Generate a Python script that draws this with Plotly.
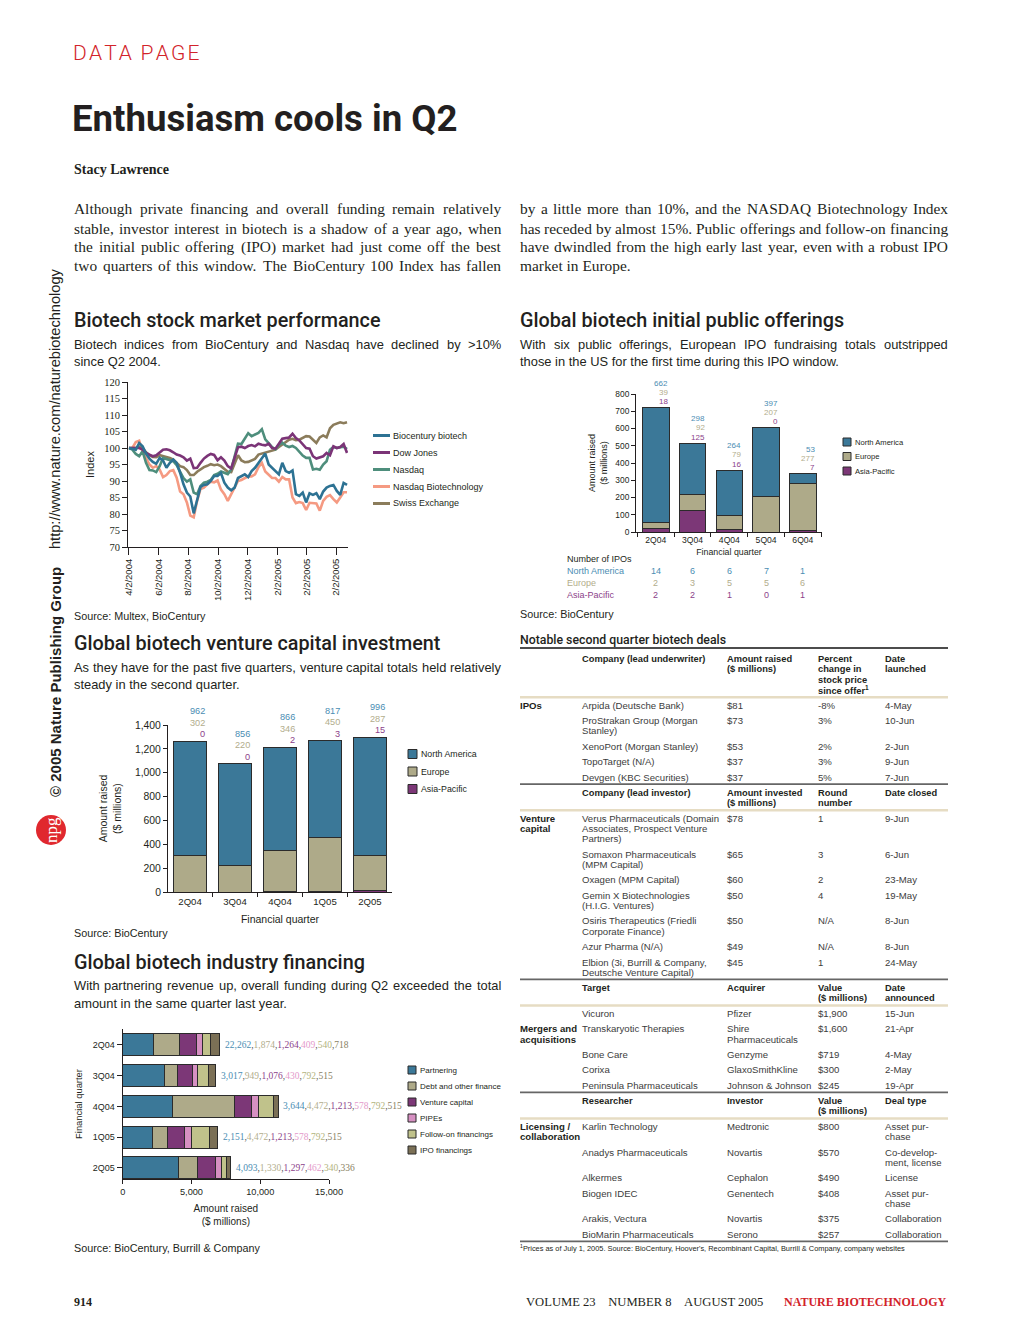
import plotly.graph_objects as go
import pandas as pd

# ------------------------------------------------------------------ DATA
weeks = pd.date_range("2004-04-02", periods=65, freq="7D")
biocentury = [100, 99.8, 99.5, 101.5, 100.5, 98.3, 96.8, 95.8, 95.2, 97,
              96.2, 94, 95.5, 96.5, 95.5, 92.5, 89, 86.5, 85.3, 80.2,
              84, 88.2, 88.8, 89, 90, 91.5, 91.5, 92.4, 89.5, 88,
              87.2, 88, 90.9, 91.5, 92, 91.2, 93, 94, 95.5, 97,
              98.3, 95, 94, 92.8, 92, 95.5, 93, 92.5, 93.2, 86,
              85.5, 86.5, 83.5, 86.3, 85.8, 86.3, 84.5, 86.8, 88, 88.5,
              88.8, 87, 85.8, 89.4, 88.8]
dow_jones = [100, 100, 99.8, 100, 99.5, 98.5, 98, 97.5, 97.8, 98.8,
             99.5, 99.6, 99.3, 98.7, 98, 97.7, 97.2, 96.2, 96.8, 93.9,
             94, 95.5, 96.8, 97.6, 98.2, 97.9, 96.3, 97.2, 96.2, 94.5,
             93.8, 97, 100.2, 100.4, 100, 100.6, 100.9, 100.5, 101.3, 101,
             100.8, 101.3, 100, 99.8, 101.5, 102.8, 103, 103.2, 104.3, 103,
             102.3, 101, 100, 99.8, 97.5, 96.8, 97.2, 97.5, 98.5, 97.8,
             100.5, 100, 100.3, 101.2, 98.5]
nasdaq = [100, 99.5, 98.2, 97.5, 99, 95.5, 93.3, 93.2, 92.7, 94.5,
          97, 96.7, 96.5, 96, 94.8, 92.6, 90.9, 89.8, 90.5, 86.5,
          86, 88.5, 89.5, 89.8, 90.3, 91.8, 92.2, 92.9, 92.5, 92.1,
          93.5, 97.5, 101.3, 101.2, 103, 104.5, 103.6, 104, 104.6, 105.7,
          102.6, 101.5, 100.3, 99.6, 100.9, 101.6, 100.7, 100.3, 100.6, 100,
          98.7, 97.7, 97, 97, 93.5, 93.7, 93.4, 95, 96, 99.5,
          100.3, 100, 100.2, 100.4, 99.7]
nasdaq_biotech = [100, 100, 101.8, 102.2, 99, 96.8, 95, 94, 94.5, 93.5,
                  91.2, 91.8, 93, 93.3, 91, 86.8, 86, 83.5, 79.5, 79,
                  84, 87.6, 88, 89, 89.8, 89.6, 90.2, 87.4, 86, 84,
                  86, 88, 90, 90.3, 90.8, 91.4, 91.4, 92, 94.2, 95.5,
                  92.9, 91.8, 90.9, 90.9, 89.8, 91.2, 90.5, 90.5, 85, 83.3,
                  83.6, 83.3, 81.2, 83.4, 83.2, 83.2, 81, 84, 85.2, 85.7,
                  84.5, 83.5, 85, 86.6, 86.6]
swiss = [100, 100, 100, 100.3, 100, 98.7, 97.8, 97.3, 97.2, 97.8,
         97.6, 97.3, 97, 96.5, 95.4, 94.5, 94.2, 93.3, 91.8, 91.8,
         92.8, 93.5, 94.2, 94.6, 95.1, 94.8, 95, 94.5, 93.5, 92.8,
         92.7, 95, 97.8, 96.2, 95.7, 95.8, 96.3, 96.7, 98, 98.3,
         98.6, 98.9, 99.1, 99.5, 100.3, 101, 101.8, 102.5, 102.8, 102.4,
         102.5, 103, 103.6, 103.5, 102.5, 101.5, 103.2, 103.8, 103.2, 106,
         107, 107.5, 107.8, 107.5, 107.8]
line_tick_dates = ["2004-04-02", "2004-06-02", "2004-08-02", "2004-10-02",
                   "2004-12-02", "2005-02-02", "2005-04-02", "2005-06-02"]
line_tick_text = ["4/2/2004", "6/2/2004", "8/2/2004", "10/2/2004",
                  "12/2/2004", "2/2/2005", "2/2/2005", "2/2/2005"]

ipo_quarters = ["2Q04", "3Q04", "4Q04", "5Q04", "6Q04"]
ipo_na = [662, 298, 264, 397, 53]
ipo_eu = [39, 92, 79, 207, 277]
ipo_ap = [18, 125, 16, 0, 7]
ipo_count_na = [14, 6, 6, 7, 1]
ipo_count_eu = [2, 3, 5, 5, 6]
ipo_count_ap = [2, 2, 1, 0, 1]

vc_quarters = ["2Q04", "3Q04", "4Q04", "1Q05", "2Q05"]
vc_na = [962, 856, 866, 817, 996]
vc_eu = [302, 220, 346, 450, 287]
vc_ap = [0, 0, 2, 3, 15]

fin_quarters = ["2Q04", "3Q04", "4Q04", "1Q05", "2Q05"]
fin_partnering = [2262, 3017, 3644, 2151, 4093]
fin_debt = [1874, 949, 4472, 1090, 1330]
fin_vc = [1264, 1076, 1213, 1237, 1297]
fin_pipes = [409, 430, 578, 533, 462]
fin_followon = [540, 792, 1050, 1285, 340]
fin_ipo = [718, 515, 360, 606, 336]
fin_labels = [["22,262", "1,874", "1,264", "409", "540", "718"],
              ["3,017", "949", "1,076", "430", "792", "515"],
              ["3,644", "4,472", "1,213", "578", "792", "515"],
              ["2,151", "4,472", "1,213", "578", "792", "515"],
              ["4,093", "1,330", "1,297", "462", "340", "336"]]

left_par = ["Although private financing and overall funding remain relatively",
            "stable, investor interest in biotech is a shadow of a year ago, when",
            "the initial public offering (IPO) market had just come off the best",
            "two quarters of this window. The BioCentury 100 Index has fallen"]
right_par = ["by a little more than 10%, and the NASDAQ Biotechnology Index",
             "has receded by almost 15%. Public offerings and follow-on financing",
             "have dwindled from the high early last year, even with a robust IPO",
             "market in Europe."]

deal_sections = [
    dict(label="IPOs", label_row=0,
         header=["Company (lead underwriter)", "Amount raised<br>($ millions)",
                 "Percent<br>change in<br>stock price<br>since offer<sup>1</sup>", "Date<br>launched"],
         rows=[["Arpida (Deutsche Bank)", "$81", "-8%", "4-May"],
               ["ProStrakan Group (Morgan<br>Stanley)", "$73", "3%", "10-Jun"],
               ["XenoPort (Morgan Stanley)", "$53", "2%", "2-Jun"],
               ["TopoTarget (N/A)", "$37", "3%", "9-Jun"],
               ["Devgen (KBC Securities)", "$37", "5%", "7-Jun"]]),
    dict(label="Venture<br>capital", label_row=0,
         header=["Company (lead investor)", "Amount invested<br>($ millions)", "Round<br>number", "Date closed"],
         rows=[["Verus Pharmaceuticals (Domain<br>Associates, Prospect Venture<br>Partners)", "$78", "1", "9-Jun"],
               ["Somaxon Pharmaceuticals<br>(MPM Capital)", "$65", "3", "6-Jun"],
               ["Oxagen (MPM Capital)", "$60", "2", "23-May"],
               ["Gemin X Biotechnologies<br>(H.I.G. Ventures)", "$50", "4", "19-May"],
               ["Osiris Therapeutics (Friedli<br>Corporate Finance)", "$50", "N/A", "8-Jun"],
               ["Azur Pharma (N/A)", "$49", "N/A", "8-Jun"],
               ["Elbion (3i, Burrill & Company,<br>Deutsche Venture Capital)", "$45", "1", "24-May"]]),
    dict(label="Mergers and<br>acquisitions", label_row=1,
         header=["Target", "Acquirer", "Value<br>($ millions)", "Date<br>announced"],
         rows=[["Vicuron", "Pfizer", "$1,900", "15-Jun"],
               ["Transkaryotic Therapies", "Shire<br>Pharmaceuticals", "$1,600", "21-Apr"],
               ["Bone Care", "Genzyme", "$719", "4-May"],
               ["Corixa", "GlaxoSmithKline", "$300", "2-May"],
               ["Peninsula Pharmaceuticals", "Johnson & Johnson", "$245", "19-Apr"]]),
    dict(label="Licensing /<br>collaboration", label_row=0,
         header=["Researcher", "Investor", "Value<br>($ millions)", "Deal type"],
         rows=[["Karlin Technology", "Medtronic", "$800", "Asset pur-<br>chase"],
               ["Anadys Pharmaceuticals", "Novartis", "$570", "Co-develop-<br>ment, license"],
               ["Alkermes", "Cephalon", "$490", "License"],
               ["Biogen IDEC", "Genentech", "$408", "Asset pur-<br>chase"],
               ["Arakis, Vectura", "Novartis", "$375", "Collaboration"],
               ["BioMarin Pharmaceuticals", "Serono", "$257", "Collaboration"]]),
]

# ------------------------------------------------------------------ STYLE
W, H = 1020, 1344
def X(px): return px / W
def Y(py): return 1 - py / H

SANS = "Liberation Sans, Arial, sans-serif"
HEAD = "Roboto, Liberation Sans, sans-serif"
SERIF = "Liberation Serif, Times New Roman, serif"
INK = "#231f20"
GREY = "#3c3c3c"
RED = "#d2232a"
OUT = "#2b2b2b"

C_NA, C_EU, C_AP = "#3b7898", "#aeaa89", "#7c3777"
T_NA, T_EU, T_AP = "#4a8db3", "#b2ad8c", "#8c3f8a"
fin_colors = ["#3b7898", "#aeaa89", "#7c3777", "#d690c2", "#c0c28b", "#7b7056"]
fin_text_colors = ["#4a8db3", "#b2ad8c", "#8c3f8a", "#e49acb", "#b3b47e", "#8a7f62"]

# advance widths (1/1000 em) of the metric-compatible Liberation fonts
_tu = "ABCDEFGHIJKLMNOPQRSTUVWXYZ"
_tl = "abcdefghijklmnopqrstuvwxyz"
TIMES_W = dict(zip(_tu, [722, 667, 667, 722, 611, 556, 722, 722, 333, 389, 722, 611, 889,
                         722, 722, 556, 722, 667, 556, 611, 722, 722, 944, 722, 722, 611]))
TIMES_W.update(zip(_tl, [444, 500, 444, 500, 444, 333, 500, 500, 278, 278, 500, 278, 778,
                         500, 500, 500, 500, 333, 389, 278, 500, 500, 722, 500, 500, 444]))
TIMES_W.update({c: 500 for c in "0123456789"})
TIMES_W.update({" ": 250, ",": 250, ".": 250, "(": 333, ")": 333, "-": 333, "%": 833,
                ">": 564, "'": 333, ":": 278, "/": 278})
ARIAL_W = dict(zip(_tu, [667, 667, 722, 722, 667, 611, 778, 722, 278, 500, 667, 556, 833,
                         722, 778, 667, 778, 722, 667, 611, 722, 667, 944, 667, 667, 611]))
ARIAL_W.update(zip(_tl, [556, 556, 500, 556, 556, 278, 556, 556, 222, 222, 500, 222, 833,
                         556, 556, 556, 556, 333, 500, 278, 556, 500, 722, 500, 500, 500]))
ARIAL_W.update({c: 556 for c in "0123456789"})
ARIAL_W.update({" ": 278, ",": 278, ".": 278, "(": 333, ")": 333, "-": 333, "%": 889,
                ">": 584, "'": 191, ":": 278, "/": 278})

annotations, shapes = [], []

def put(x, y, s, size, family=SANS, color=INK, xanchor="left", weight="normal",
        angle=0, yanchor="middle"):
    annotations.append(dict(xref="paper", yref="paper", x=X(x), y=Y(y), text=s,
                            showarrow=False, xanchor=xanchor, yanchor=yanchor,
                            textangle=angle, borderpad=0, borderwidth=0,
                            font=dict(family=family, size=size, color=color, weight=weight)))

def esc(s):
    return s.replace("&", "&amp;").replace(">", "&gt;")

def text_line(x0, x1, y, line, size, family, table, justify):
    words = line.split(" ")
    if not justify or len(words) < 2:
        put(x0, y, esc(line), size, family)
        return
    widths = [sum(table.get(ch, 500) for ch in w) * size / 1000 for w in words]
    gap = (x1 - x0 - sum(widths)) / (len(words) - 1)
    x = x0
    for w, wd in zip(words, widths):
        put(x, y, esc(w), size, family)
        x += wd + gap

def hline(x0, x1, y, color, width):
    shapes.append(dict(type="line", xref="paper", yref="paper", x0=X(x0), x1=X(x1),
                       y0=Y(y), y1=Y(y), line=dict(color=color, width=width)))

fig = go.Figure()

# ------------------------------------------------------------------ CHART 1: lines
line_series = [("Biocentury biotech", biocentury, "#2d7293"),
               ("Dow Jones", dow_jones, "#7b3477"),
               ("Nasdaq", nasdaq, "#4e8e7c"),
               ("Nasdaq Biotechnology", nasdaq_biotech, "#f59a82"),
               ("Swiss Exchange", swiss, "#8b7c5b")]
for idx in [3, 4, 2, 1, 0]:
    name, vals, col = line_series[idx]
    fig.add_trace(go.Scatter(x=weeks, y=vals, mode="lines", name=name,
                             line=dict(color=col, width=2.6), xaxis="x", yaxis="y",
                             showlegend=False))
for i, (name, vals, col) in enumerate(line_series):
    yy = 435.5 + 17 * i
    hline(373, 390, yy, col, 3)
    put(393, yy, name, 9, SANS, INK)

# ------------------------------------------------------------------ CHART 2: IPO bars
for name, vals, col in [("Asia-Pacific", ipo_ap, C_AP), ("Europe", ipo_eu, C_EU),
                        ("North America", ipo_na, C_NA)]:
    fig.add_trace(go.Bar(x=ipo_quarters, y=vals, name=name, width=0.72,
                         marker=dict(color=col, line=dict(color=OUT, width=1)),
                         xaxis="x2", yaxis="y2", showlegend=False))
for i, q in enumerate(ipo_quarters):
    total = ipo_na[i] + ipo_eu[i] + ipo_ap[i]
    for j, (vals, col) in enumerate([(ipo_ap, T_AP), (ipo_eu, T_EU), (ipo_na, T_NA)]):
        annotations.append(dict(xref="x2", yref="y2", x=q, y=total, text=str(vals[i]),
                                showarrow=False, xanchor="right", yanchor="middle",
                                xshift=13, yshift=6 + 9.4 * j, borderpad=0,
                                font=dict(family=SANS, size=8, color=col)))
put(567, 559, "Number of IPOs", 9, SANS, INK)
for j, (name, vals, col) in enumerate([("North America", ipo_count_na, T_NA),
                                       ("Europe", ipo_count_eu, T_EU),
                                       ("Asia-Pacific", ipo_count_ap, T_AP)]):
    yy = 571 + 12 * j
    put(567, yy, name, 9, SANS, col)
    for i, q in enumerate(ipo_quarters):
        annotations.append(dict(xref="x2", yref="paper", x=q, y=Y(yy), text=str(vals[i]),
                                showarrow=False, xanchor="center", yanchor="middle",
                                borderpad=0, font=dict(family=SANS, size=9, color=col)))

def rect_legend(x0, y0, step, size, items, fs):
    for i, (name, col) in enumerate(items):
        yy = y0 + i * step
        shapes.append(dict(type="rect", xref="paper", yref="paper", x0=X(x0), x1=X(x0 + size),
                           y0=Y(yy + size / 2), y1=Y(yy - size / 2), fillcolor=col,
                           line=dict(color=OUT, width=1)))
        put(x0 + size + 4, yy, name, fs, SANS, INK)

rect_legend(843, 442, 14.5, 8, [("North America", C_NA), ("Europe", C_EU), ("Asia-Pacific", C_AP)], 7.6)

# ------------------------------------------------------------------ CHART 3: VC bars
for name, vals, col in [("Asia-Pacific", vc_ap, C_AP), ("Europe", vc_eu, C_EU),
                        ("North America", vc_na, C_NA)]:
    fig.add_trace(go.Bar(x=vc_quarters, y=vals, name=name, width=0.73,
                         marker=dict(color=col, line=dict(color=OUT, width=1)),
                         xaxis="x3", yaxis="y3", showlegend=False))
for i, q in enumerate(vc_quarters):
    total = vc_na[i] + vc_eu[i] + vc_ap[i]
    for j, (vals, col) in enumerate([(vc_ap, T_AP), (vc_eu, T_EU), (vc_na, T_NA)]):
        annotations.append(dict(xref="x3", yref="y3", x=q, y=total, text=str(vals[i]),
                                showarrow=False, xanchor="right", yanchor="middle",
                                xshift=16, yshift=7 + 11.5 * j, borderpad=0,
                                font=dict(family=SANS, size=9.2, color=col)))
rect_legend(408, 754, 17.5, 9, [("North America", C_NA), ("Europe", C_EU), ("Asia-Pacific", C_AP)], 8.8)

# ------------------------------------------------------------------ CHART 4: financing
fin_series = [("Partnering", fin_partnering), ("Debt and other finance", fin_debt),
              ("Venture capital", fin_vc), ("PIPEs", fin_pipes),
              ("Follow-on financings", fin_followon), ("IPO financings", fin_ipo)]
for (name, vals), col in zip(fin_series, fin_colors):
    fig.add_trace(go.Bar(y=fin_quarters, x=vals, name=name, orientation="h", width=0.715,
                         marker=dict(color=col, line=dict(color=OUT, width=1)),
                         xaxis="x4", yaxis="y4", showlegend=False))
sep = '<span style="color:#555555">,</span>'
for i, q in enumerate(fin_quarters):
    total = sum(vals[i] for _, vals in fin_series)
    label = sep.join('<span style="color:%s">%s</span>' % (c, s)
                     for s, c in zip(fin_labels[i], fin_text_colors))
    annotations.append(dict(xref="x4", yref="y4", x=total, y=q, text=label, showarrow=False,
                            xanchor="left", yanchor="middle", xshift=4, borderpad=0,
                            font=dict(family=SERIF, size=9.5, color=INK)))
rect_legend(408, 1070, 16, 8, [(n, c) for (n, _), c in zip(fin_series, fin_colors)], 8)

# ------------------------------------------------------------------ PAGE TEXT
hs = "\u200a"
put(73, 53, hs.join("DATA") + "\u2009\u2009" + hs.join("PAGE"), 21, HEAD, RED, weight=300)
put(72, 118, "Enthusiasm cools in Q2", 36.6, HEAD, INK, weight=700)
put(74, 169, "Stacy Lawrence", 14, SERIF, INK, weight=700)
for k, line in enumerate(left_par):
    text_line(74, 501, 209 + 19 * k, line, 15.4, SERIF, TIMES_W, True)
for k, line in enumerate(right_par):
    text_line(520, 948, 209 + 19 * k, line, 15.4, SERIF, TIMES_W, k < len(right_par) - 1)

heads = [(74, 320, "Biotech stock market performance"),
         (520, 320, "Global biotech initial public offerings"),
         (74, 643, "Global biotech venture capital investment"),
         (74, 962, "Global biotech industry financing")]
for x, y, s in heads:
    put(x, y, s, 19.8, HEAD, INK, weight=500)
subs = [(74, 501, 344, ["Biotech indices from BioCentury and Nasdaq have declined by >10%", "since Q2 2004."]),
        (520, 948, 344, ["With six public offerings, European IPO fundraising totals outstripped",
                         "those in the US for the first time during this IPO window."]),
        (74, 501, 667, ["As they have for the past five quarters, venture capital totals held relatively",
                        "steady in the second quarter."]),
        (74, 501, 986, ["With partnering revenue up, overall funding during Q2 exceeded the total",
                        "amount in the same quarter last year."])]
for x0, x1, y, lines in subs:
    for k, s in enumerate(lines):
        text_line(x0, x1, y + 17 * k, s, 12.9, SANS, ARIAL_W, k < len(lines) - 1)

put(74, 616, "Source: Multex, BioCentury", 10.8, SANS, INK)
put(520, 614, "Source: BioCentury", 10.8, SANS, INK)
put(74, 933, "Source: BioCentury", 10.8, SANS, INK)
put(74, 1248, "Source: BioCentury, Burrill &amp; Company", 10.8, SANS, INK)

put(74, 1302, "914", 12, SERIF, INK, weight=700)
nb = "\u00a0"
put(526, 1302, "VOLUME 23" + nb * 4 + "NUMBER 8" + nb * 4 + "AUGUST 2005", 12.6, SERIF, INK)
put(946, 1302, "NATURE BIOTECHNOLOGY", 12, SERIF, RED, xanchor="right", weight=700)

# side banner
put(55, 682, "\u00a9 2005 Nature Publishing Group", 15, SANS, INK, xanchor="center", weight=700, angle=-90)
put(55, 409, "http://www.nature.com/naturebiotechnology", 14.6, SANS, INK, xanchor="center", angle=-90)
shapes.append(dict(type="circle", xref="paper", yref="paper", x0=X(36), x1=X(66), y0=Y(845), y1=Y(815),
                   fillcolor="#e0282e", line=dict(width=0)))
put(51, 830, "npg", 17, SERIF, "white", xanchor="center", angle=-90)

# ------------------------------------------------------------------ DEALS TABLE
col_x = [582, 727, 818, 885]
LH, ROWSTEP = 10.3, 15.4
TFS = 9.6
put(520, 640, "Notable second quarter biotech deals", 12.3, HEAD, INK, weight=500)
hline(520, 948, 648, "#111111", 1.3)
line_y = 648
for si, sec in enumerate(deal_sections):
    hy = 659 if si == 0 else line_y + 8.5
    nh = max(h.count("<br>") + 1 for h in sec["header"])
    for ci, h in enumerate(sec["header"]):
        for k, part in enumerate(h.split("<br>")):
            put(col_x[ci], hy + k * LH, part, 9.3, SANS, INK, weight=700)
    beige = hy + (nh - 1) * LH + 7.3
    hline(520, 948, beige, "#e6dcc3", 2.6)
    ry = beige + 8
    for ri, row in enumerate(sec["rows"]):
        n = max(c.count("<br>") + 1 for c in row)
        if ri == sec["label_row"]:
            for k, part in enumerate(sec["label"].split("<br>")):
                put(520, ry + k * LH, part, TFS, SANS, INK, weight=700)
        for ci, c in enumerate(row):
            for k, part in enumerate(c.split("<br>")):
                put(col_x[ci], ry + k * LH, part, TFS, SANS, GREY)
        last = ry + (n - 1) * LH
        ry = last + ROWSTEP
    line_y = last + 7
    hline(520, 948, line_y, "#666666", 1.6)
put(520, 1248, "<sup>1</sup>Prices as of July 1, 2005. Source: BioCentury, Hoover's, Recombinant Capital, Burrill &amp; Company, company websites",
    7.4, SANS, INK)

# ------------------------------------------------------------------ AXES
def ax(**kw):
    base = dict(showline=True, linecolor=INK, linewidth=1, ticks="outside", tickcolor=INK,
                showgrid=False, zeroline=False, fixedrange=True, automargin=False)
    base.update(kw)
    return base

fig.update_layout(
    width=W, height=H, margin=dict(l=0, r=0, t=0, b=0),
    paper_bgcolor="white", plot_bgcolor="rgba(0,0,0,0)",
    showlegend=False, barmode="stack", hovermode=False,
    xaxis=ax(domain=[X(128), X(348)], type="date", range=["2004-03-31", "2005-06-26"],
             tickmode="array", tickvals=line_tick_dates, ticktext=line_tick_text, tickangle=-90,
             ticklen=7, tickfont=dict(family=SANS, size=9.5, color=INK), anchor="y"),
    yaxis=ax(domain=[Y(547), Y(382)], range=[70, 120], dtick=5, ticklen=5,
             tickfont=dict(family=SERIF, size=10.5, color=INK), anchor="x",
             title=dict(text="Index", font=dict(family=SANS, size=11, color=INK), standoff=7)),
    xaxis2=ax(domain=[X(636), X(822)], type="category", range=[-0.54, 4.52], tickson="boundaries",
              ticklen=4, tickfont=dict(family=SANS, size=8.6, color=INK), anchor="y2",
              title=dict(text="Financial quarter", font=dict(family=SANS, size=8.8, color=INK), standoff=4)),
    yaxis2=ax(domain=[Y(532), Y(394)], range=[0, 800], dtick=100, ticklen=4,
              tickfont=dict(family=SANS, size=8.4, color=INK), anchor="x2",
              title=dict(text="Amount raised<br>($ millions)", font=dict(family=SANS, size=9, color=INK), standoff=6)),
    xaxis3=ax(domain=[X(168), X(392)], type="category", range=[-0.49, 4.49], tickson="boundaries",
              ticklen=4, tickfont=dict(family=SANS, size=9.6, color=INK), anchor="y3",
              title=dict(text="Financial quarter", font=dict(family=SANS, size=10.5, color=INK), standoff=10)),
    yaxis3=ax(domain=[Y(892), Y(725)], range=[0, 1400], dtick=200, tickformat=",", ticklen=4,
              tickfont=dict(family=SANS, size=10.4, color=INK), anchor="x3",
              title=dict(text="Amount raised<br>($ millions)", font=dict(family=SANS, size=10.5, color=INK), standoff=11)),
    xaxis4=ax(domain=[X(122.7), X(329)], range=[0, 15000], dtick=5000, tickformat=",", ticklen=4,
              tickfont=dict(family=SANS, size=9.2, color=INK), anchor="y4",
              title=dict(text="Amount raised<br>($ millions)", font=dict(family=SANS, size=10, color=INK), standoff=8)),
    yaxis4=ax(domain=[Y(1179), Y(1029)], type="category", categoryorder="array",
              categoryarray=fin_quarters, range=[4.36, -0.52], ticklen=5,
              tickfont=dict(family=SANS, size=9, color=INK), anchor="x4",
              title=dict(text="Financial quarter", font=dict(family=SANS, size=9.4, color=INK), standoff=8)),
    annotations=annotations, shapes=shapes,
)

fig.write_html("out.html", config={"displayModeBar": False, "staticPlot": True},
               post_script="document.body.style.margin='0';document.body.style.overflow='hidden';")
